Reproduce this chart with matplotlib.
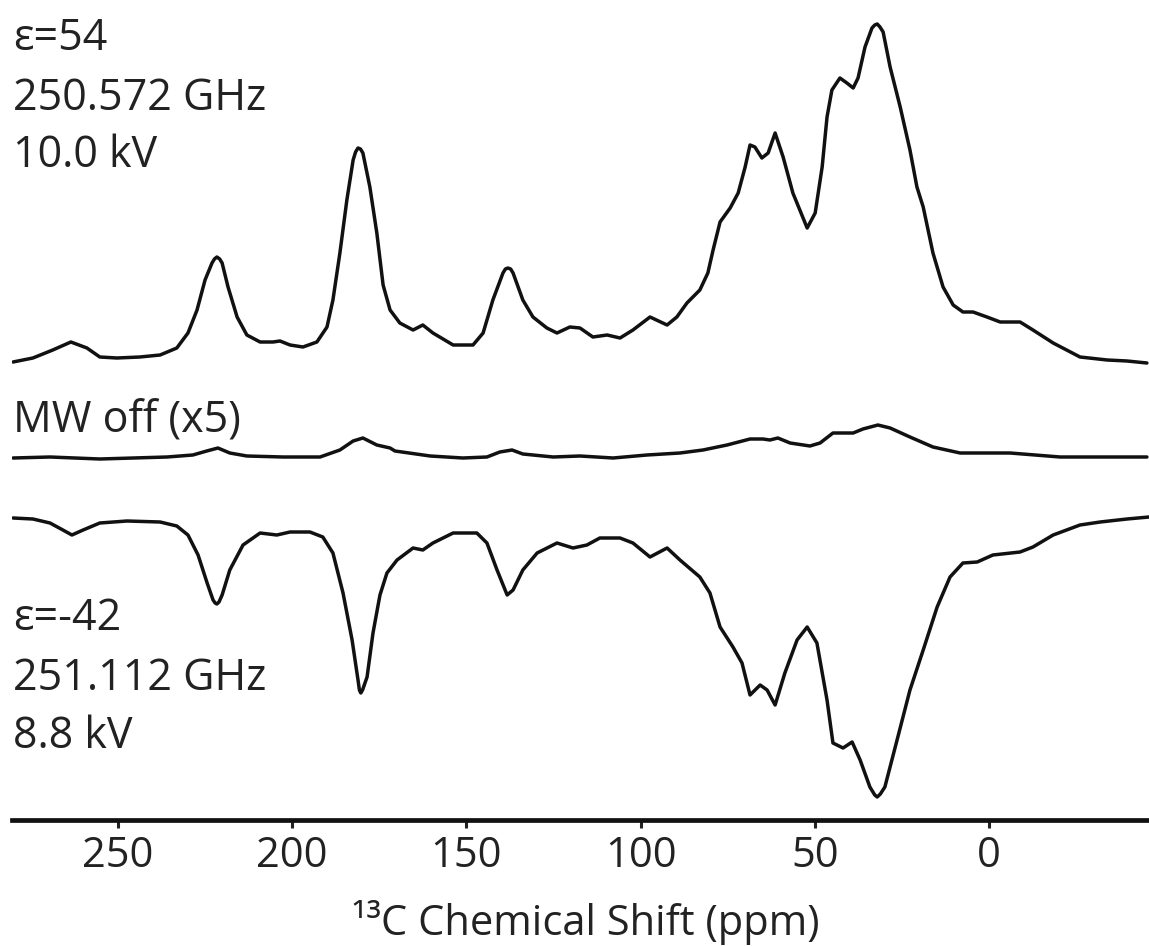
import matplotlib
matplotlib.use("Agg")
import matplotlib.pyplot as plt

plt.rcParams['font.family'] = ['Open Sans', 'DejaVu Sans']

# ----------------------------------------------------------------------------
# Traced spectra (ppm, intensity in arbitrary units, baseline = 0)
# ----------------------------------------------------------------------------

# MW on, positive enhancement (eps = 54)
pos_ppm = [280.1, 274.4, 268.7, 263.5, 258.9, 255.2, 250.3, 243.7, 237.9, 233.1,
           229.9, 227.3, 225.0, 223.0, 222.3, 221.6, 220.8, 220.1, 218.4, 215.8,
           213.0, 209.2, 205.5, 203.5, 200.6, 196.9, 192.9, 190.0, 188.3, 186.3,
           184.3, 182.5, 181.8, 181.1, 180.4, 179.7, 177.7, 175.7, 173.9, 171.9,
           169.1, 165.3, 162.5, 159.6, 153.8, 148.1, 145.2, 142.4, 139.5, 138.8,
           138.1, 137.3, 136.6, 133.8, 130.9, 126.9, 124.0, 120.3, 117.4, 113.7,
           109.6, 105.9, 102.2, 97.3, 92.4, 89.6, 86.7, 83.0, 80.7, 79.2,
           77.2, 74.3, 72.0, 70.0, 68.6, 67.2, 65.2, 63.4, 61.4, 59.1,
           56.3, 52.2, 49.9, 47.9, 46.5, 45.1, 42.8, 40.8, 39.0, 37.6,
           35.6, 33.6, 32.8, 32.1, 31.3, 30.4, 28.4, 25.5, 22.7, 20.7,
           18.9, 16.1, 13.2, 10.3, 7.5, 4.6, 0.6, -3.2, -8.9, -12.6,
           -18.4, -26.1, -33.9, -39.6, -45.3]
pos_int = [0, 4, 12, 20, 14, 5, 4, 5, 7, 14,
           29, 52, 82, 99, 103, 105, 103, 99, 75, 45,
           27, 20, 20, 21, 17, 15, 20, 35, 62, 109,
           162, 202, 210, 214, 213, 209, 175, 129, 77, 52,
           39, 32, 37, 29, 17, 17, 29, 62, 89, 93,
           94, 93, 89, 62, 45, 34, 29, 35, 34, 25,
           27, 24, 32, 45, 37, 45, 59, 72, 89, 112,
           140, 154, 169, 195, 217, 215, 204, 209, 229, 205,
           169, 134, 149, 195, 245, 272, 284, 279, 274, 284,
           315, 334, 337, 338, 335, 330, 295, 255, 212, 175,
           155, 109, 75, 57, 50, 50, 45, 40, 40, 32,
           19, 5, 2, 1, -1]

# MW off, scaled x5
off_ppm = [280.1, 269.5, 255.2, 235.9, 228.5, 224.5, 221.3, 217.9, 213.0, 202.6,
           192.0, 186.3, 182.5, 179.7, 175.7, 171.9, 170.5, 160.4, 151.0, 144.1,
           140.4, 136.9, 133.8, 125.1, 117.4, 107.9, 98.2, 88.7, 82.1, 75.2,
           68.6, 64.9, 62.9, 60.6, 57.1, 51.4, 48.5, 44.8, 39.0, 36.2,
           31.9, 28.4, 22.7, 16.1, 8.3, -6.0, -20.4, -45.3]
off_int = [-1, 0, -2, 0, 2, 6, 9, 4, 1, 0,
           0, 7, 16, 19, 12, 9, 6, 1, -1, 0,
           5, 7, 3, 0, 1, -1, 2, 4, 7, 12,
           18, 18, 17, 19, 14, 11, 14, 24, 24, 28,
           32, 29, 20, 10, 4, 4, 0, 0]

# MW on, negative enhancement (eps = -42)
neg_ppm = [280.1, 274.4, 269.5, 265.8, 263.2, 260.0, 255.2, 247.4, 237.9, 233.1,
           229.9, 227.0, 224.4, 222.7, 222.1, 221.6, 221.0, 220.1, 217.9, 214.1,
           209.2, 204.4, 200.6, 194.9, 191.2, 188.3, 185.4, 182.8, 181.1, 180.7,
           180.3, 179.8, 178.5, 176.8, 174.8, 172.8, 169.9, 165.3, 162.5, 159.6,
           153.8, 147.0, 144.1, 141.2, 138.3, 136.6, 133.8, 129.7, 124.0, 119.4,
           115.4, 111.7, 105.9, 102.2, 97.3, 92.4, 88.7, 83.0, 80.1, 77.2,
           73.5, 70.9, 68.6, 65.7, 63.7, 61.4, 58.6, 55.1, 52.2, 49.4,
           46.5, 44.8, 41.9, 39.3, 37.0, 34.2, 32.8, 32.1, 31.2, 29.9,
           26.4, 22.7, 18.9, 14.9, 11.2, 7.5, 3.4, -1.1, -8.9, -12.6,
           -18.4, -26.1, -31.9, -39.6, -45.9]
neg_int = [0, -1, -5, -12, -17, -12, -5, -3, -4, -8,
           -17, -37, -65, -82, -85, -86, -84, -77, -52, -27,
           -15, -17, -14, -14, -19, -35, -75, -122, -162, -172,
           -175, -172, -159, -115, -77, -55, -42, -30, -32, -25,
           -15, -15, -25, -52, -77, -72, -52, -35, -25, -30,
           -27, -20, -20, -25, -39, -30, -42, -59, -75, -109,
           -129, -145, -177, -167, -172, -187, -155, -122, -109, -125,
           -182, -225, -230, -224, -242, -269, -277, -279, -276, -269,
           -222, -172, -132, -89, -59, -45, -44, -37, -34, -29,
           -17, -7, -4, -1, 1]

tick_ppm = [250, 200, 150, 100, 50, 0]

# ----------------------------------------------------------------------------
# Figure
# ----------------------------------------------------------------------------

W, H = 1149, 946
fig = plt.figure(figsize=(W / 100, H / 100), dpi=100)
ax = fig.add_axes([12 / W, 1 - 820 / H, 1 - 12 / W, 820 / H])

# vertical stacking of the three traces
off_shift = -95
neg_shift = -156

lw = 2.5
style = dict(color='#111111', lw=lw, solid_joinstyle='round', solid_capstyle='round')
ax.plot(pos_ppm, pos_int, **style)
ax.plot(off_ppm, [v + off_shift for v in off_int], **style)
ax.plot(neg_ppm, [v + neg_shift for v in neg_int], **style)

ax.set_xlim(280.4, -45.9)
ax.set_ylim(-458, 362)

for side in ['left', 'right', 'top']:
    ax.spines[side].set_visible(False)
ax.spines['bottom'].set_linewidth(3.4)
ax.spines['bottom'].set_color('#111111')
ax.set_yticks([])
ax.set_xticks(tick_ppm)
ax.set_xticklabels([str(t) for t in tick_ppm])
ax.tick_params(axis='x', direction='out', length=6, width=2.2, pad=5,
               labelsize=30, colors='#222222')

ax.set_xlabel('¹³C Chemical Shift (ppm)', fontsize=30, color='#222222')
ax.xaxis.set_label_coords(0.505, -0.14)
ax.xaxis.label.set_va('baseline')

def put(x, y, s):
    fig.text(x / W, 1 - y / H, s, fontsize=31, color='#222222', va='baseline', ha='left')

put(13, 50, 'ε=54')
put(13, 110, '250.572 GHz')
put(13, 167, '10.0 kV')
put(13, 432, 'MW off (x5)')
put(13, 630, 'ε=-42')
put(13, 690, '251.112 GHz')
put(13, 748, '8.8 kV')

fig.savefig('out.png', dpi=100)
